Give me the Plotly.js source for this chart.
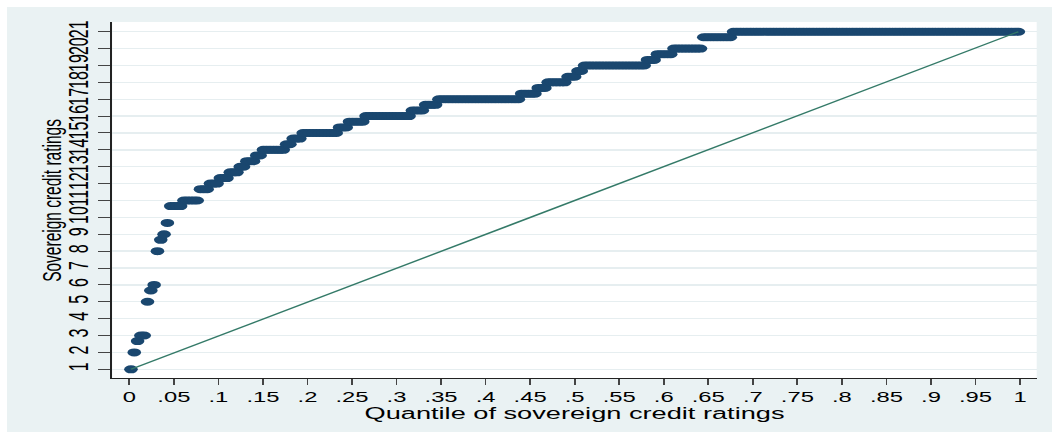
<!DOCTYPE html>
<html>
<head>
<meta charset="utf-8">
<script src="https://cdn.plot.ly/plotly-3.0.1.min.js"></script>
<style>
  html, body { margin: 0; padding: 0; background: #ffffff; overflow: hidden; }
  #frame { position: absolute; left: 7px; top: 7px; width: 1045px; height: 425px; overflow: hidden; }
  /* the graph is laid out narrow and widened horizontally, like a stretched export */
  #chart { width: 615px; height: 425px; transform-origin: 0 0; transform: scale(1.69919, 1); }
</style>
</head>
<body>
<div id="frame"><div id="chart"></div></div>
<script>
// Sovereign credit ratings (average of agency scores, in thirds) and number of observations at each level
const ratings = [1, 2, 2.67, 3, 5, 5.67, 6, 8, 8.67, 9, 9.67, 10.67, 11, 11.67, 12, 12.33, 12.67, 13, 13.33, 13.67,
                 14, 14.33, 14.67, 15, 15.33, 15.67, 16, 16.33, 16.67, 17, 17.33, 17.67, 18, 18.33, 18.67,
                 19, 19.33, 19.67, 20, 20.67, 21];
const counts  = [1, 1, 1, 2, 1, 1, 1, 1, 1, 1, 1, 4, 5, 3, 3, 3, 3, 2, 3, 2,
                 7, 2, 3, 11, 3, 5, 14, 4, 4, 25, 5, 3, 6, 3, 2,
                 19, 3, 5, 9, 9, 87];

const xTickVals = [0, .05, .1, .15, .2, .25, .3, .35, .4, .45, .5, .55, .6, .65, .7, .75, .8, .85, .9, .95, 1];
const xTickText = ['0', '.05', '.1', '.15', '.2', '.25', '.3', '.35', '.4', '.45', '.5', '.55', '.6', '.65', '.7', '.75', '.8', '.85', '.9', '.95', '1'];
const yTickVals = [1, 2, 3, 4, 5, 6, 7, 8, 9, 10, 11, 12, 13, 14, 15, 16, 17, 18, 19, 20, 21];
const yTickText = ['1', '2', '3', '4', '5', '6', '7', '8', '9', '10', '11', '12', '13', '14', '15', '16', '17', '18', '19', '20', '21'];

// Sorted sample and its plotting positions (i - 0.5) / N
const sorted = [];
ratings.forEach((r, k) => { for (let j = 0; j < counts[k]; j++) sorted.push(r); });
const N = sorted.length;
const q = sorted.map((_, i) => (i + 0.5) / N);

// Reference line of a uniform distribution between the smallest and largest rating
const refX = [q[0], q[N - 1]];
const refY = [sorted[0], sorted[N - 1]];

const font = 'Liberation Sans, Arial, sans-serif';

const traces = [
  {
    type: 'scatter', mode: 'markers', x: q, y: sorted,
    marker: { color: '#1a476f', size: 8, line: { width: 0 } },
    hoverinfo: 'x+y', showlegend: false
  },
  {
    type: 'scatter', mode: 'lines', x: refX, y: refY,
    line: { color: '#347a68', width: 1.3 },
    hoverinfo: 'skip', showlegend: false
  }
];

const layout = {
  width: 615, height: 425,
  margin: { l: 62, r: 9, t: 15, b: 54, pad: 0 },
  paper_bgcolor: '#eaf2f3',
  plot_bgcolor: '#ffffff',
  showlegend: false,
  font: { family: font, color: '#000000' },
  xaxis: {
    range: [-0.01904, 1.01875],
    tickmode: 'array', tickvals: xTickVals, ticktext: xTickText,
    ticks: 'outside', ticklen: 6, tickwidth: 1, tickcolor: '#444444',
    tickfont: { family: font, size: 14, color: '#000000' },
    showgrid: false, zeroline: false,
    showline: true, linecolor: '#222222', linewidth: 1.2,
    title: { text: 'Quantile of sovereign credit ratings', font: { family: font, size: 16, color: '#000000' }, standoff: 1 },
    automargin: false, fixedrange: true
  },
  yaxis: {
    range: [0.4846, 21.575],
    tickmode: 'array', tickvals: yTickVals, ticktext: yTickText,
    tickangle: -90,
    ticks: 'outside', ticklen: 7, tickwidth: 1, tickcolor: '#444444',
    tickfont: { family: font, size: 16, color: '#000000' },
    showgrid: true, gridcolor: '#e6eef0', gridwidth: 1.3,
    zeroline: false,
    showline: true, linecolor: '#222222', linewidth: 1.2,
    automargin: false, fixedrange: true
  },
  annotations: [
    {
      text: 'Sovereign credit ratings', textangle: -90,
      xref: 'paper', yref: 'paper', x: -0.0664, y: 0.5,
      xanchor: 'center', yanchor: 'middle', showarrow: false,
      font: { family: font, size: 15.5, color: '#000000' }
    }
  ]
};

Plotly.newPlot('chart', traces, layout, { displayModeBar: false, staticPlot: true });
</script>
</body>
</html>
